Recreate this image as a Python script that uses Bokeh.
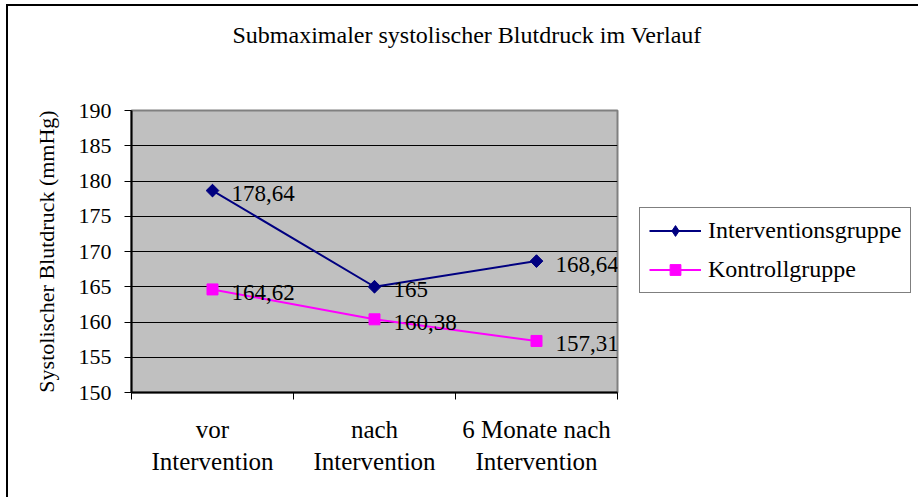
import math
from bokeh.plotting import figure
from bokeh.models import ColumnDataSource, FixedTicker, Legend, LegendItem, Range1d, Title
from bokeh.core.properties import value
from bokeh.embed import file_html
from bokeh.resources import INLINE

# ---- data ----
categories = ["vor\nIntervention", "nach\nIntervention", "6 Monate nach\nIntervention"]
interventionsgruppe = [178.64, 165, 168.64]
kontrollgruppe = [164.62, 160.38, 157.31]
y_ticks = [150, 155, 160, 165, 170, 175, 180, 185, 190]
title_text = "Submaximaler systolischer Blutdruck im Verlauf"
y_label = "Systolischer Blutdruck (mmHg)"

FONT = "Liberation Serif"

def fmt(v):
    return f"{v:g}".replace(".", ",")

xs = [i + 0.5 for i in range(len(categories))]
src_i = ColumnDataSource(dict(x=xs, y=interventionsgruppe, lab=[fmt(v) for v in interventionsgruppe]))
src_k = ColumnDataSource(dict(x=xs, y=kontrollgruppe, lab=[fmt(v) for v in kontrollgruppe]))

p = figure(frame_width=486, frame_height=282, output_backend="svg", toolbar_location=None,
           x_range=Range1d(0, len(categories)), y_range=Range1d(y_ticks[0], y_ticks[-1]),
           min_border_left=123, min_border_right=301, min_border_top=104, min_border_bottom=105)
p.styles = {"border-left": "2px solid black", "border-top": "2px solid black",
            "margin-left": "6px", "margin-top": "4px"}

p.background_fill_color = "#C0C0C0"
p.border_fill_color = "white"
p.outline_line_color = "#808080"
p.outline_line_width = 2

# main title (outermost panel)
p.title.text = title_text
p.title.text_font = FONT
p.title.text_font_size = "24px"
p.title.text_font_style = "normal"
p.title.text_color = "black"
p.title.align = "left"
p.title.offset = 101
p.title.standoff = 0

# spacer between title and plot area
p.add_layout(Title(text=" ", text_font_size="10px", standoff=50), "above")

# y axis
p.yaxis.ticker = FixedTicker(ticks=y_ticks)
p.yaxis.axis_line_color = "black"
p.yaxis.axis_line_width = 2
p.yaxis.major_tick_out = 7
p.yaxis.major_tick_in = 0
p.yaxis.major_tick_line_color = "black"
p.yaxis.minor_tick_line_color = None
p.yaxis.major_label_standoff = 13
p.yaxis.major_label_text_font = FONT
p.yaxis.major_label_text_font_size = "22px"
p.yaxis.major_label_text_color = "black"
p.yaxis.axis_label = y_label
p.yaxis.axis_label_text_font = FONT
p.yaxis.axis_label_text_font_size = "22px"
p.yaxis.axis_label_text_font_style = "normal"
p.yaxis.axis_label_text_color = "black"
p.yaxis.axis_label_standoff = 17

# x axis
p.xaxis.ticker = FixedTicker(ticks=xs, minor_ticks=list(range(len(categories) + 1)))
p.xaxis.major_label_overrides = {x: c for x, c in zip(xs, categories)}
p.xaxis.axis_line_color = "black"
p.xaxis.axis_line_width = 2
p.xaxis.major_tick_line_color = None
p.xaxis.major_tick_out = 0
p.xaxis.major_tick_in = 0
p.xaxis.minor_tick_line_color = "black"
p.xaxis.minor_tick_out = 7
p.xaxis.minor_tick_in = 0
p.xaxis.major_label_standoff = 16
p.xaxis.major_label_text_font = FONT
p.xaxis.major_label_text_font_size = "25px"
p.xaxis.major_label_text_color = "black"

# grid
p.xgrid.grid_line_color = None
p.ygrid.ticker = FixedTicker(ticks=y_ticks[1:-1])
p.ygrid.grid_line_color = "black"
p.ygrid.grid_line_width = 1

# series
li = p.line("x", "y", source=src_i, line_color="#000080", line_width=2)
md = p.scatter("x", "y", source=src_i, marker="diamond", size=12,
               fill_color="#000080", line_color="#000080")
mi = p.scatter("x", "y", source=src_i, marker="square", size=9, angle=math.pi / 4,
               fill_color="#000080", line_color="#000080")
lk = p.line("x", "y", source=src_k, line_color="#FF00FF", line_width=2)
mk = p.scatter("x", "y", source=src_k, marker="square", size=11,
               fill_color="#FF00FF", line_color="#FF00FF")

for s in (src_i, src_k):
    p.text("x", "y", text="lab", source=s, x_offset=19, y_offset=3,
           text_font=value(FONT), text_font_size="23px", text_color="black",
           text_baseline="middle", text_align="left")

# legend
legend = Legend(items=[LegendItem(label="Interventionsgruppe", renderers=[li, md]),
                       LegendItem(label="Kontrollgruppe", renderers=[lk, mk])],
                location=(22, 99), orientation="vertical",
                label_text_font=FONT, label_text_font_size="24px", label_text_color="black",
                glyph_width=52, glyph_height=27, label_standoff=7, label_height=27,
                padding=9, spacing=12, margin=0,
                border_line_color="black", border_line_width=1,
                background_fill_color="white", background_fill_alpha=1)
p.add_layout(legend, "right")

open("out.html", "w").write(file_html(p, INLINE))
